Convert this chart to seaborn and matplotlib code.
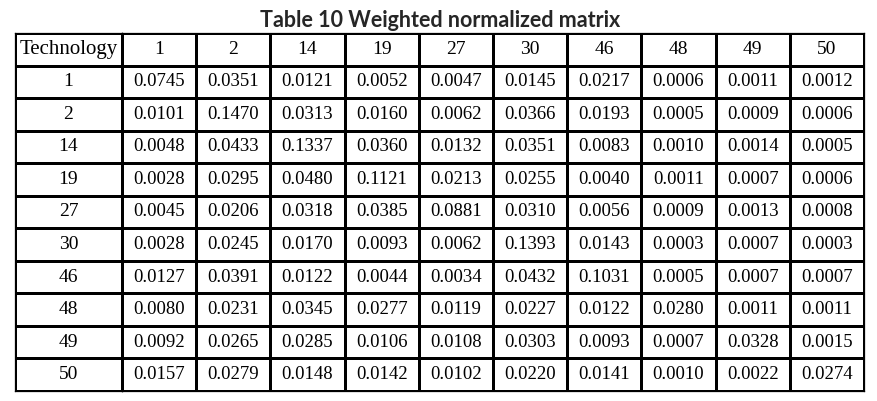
import numpy as np
import pandas as pd
import seaborn as sns
import matplotlib.pyplot as plt
from matplotlib.colors import ListedColormap

# Table 10: weighted normalized matrix
techs = ["1", "2", "14", "19", "27", "30", "46", "48", "49", "50"]
row_1 = [0.0745, 0.0351, 0.0121, 0.0052, 0.0047, 0.0145, 0.0217, 0.0006, 0.0011, 0.0012]
row_2 = [0.0101, 0.1470, 0.0313, 0.0160, 0.0062, 0.0366, 0.0193, 0.0005, 0.0009, 0.0006]
row_14 = [0.0048, 0.0433, 0.1337, 0.0360, 0.0132, 0.0351, 0.0083, 0.0010, 0.0014, 0.0005]
row_19 = [0.0028, 0.0295, 0.0480, 0.1121, 0.0213, 0.0255, 0.0040, 0.0011, 0.0007, 0.0006]
row_27 = [0.0045, 0.0206, 0.0318, 0.0385, 0.0881, 0.0310, 0.0056, 0.0009, 0.0013, 0.0008]
row_30 = [0.0028, 0.0245, 0.0170, 0.0093, 0.0062, 0.1393, 0.0143, 0.0003, 0.0007, 0.0003]
row_46 = [0.0127, 0.0391, 0.0122, 0.0044, 0.0034, 0.0432, 0.1031, 0.0005, 0.0007, 0.0007]
row_48 = [0.0080, 0.0231, 0.0345, 0.0277, 0.0119, 0.0227, 0.0122, 0.0280, 0.0011, 0.0011]
row_49 = [0.0092, 0.0265, 0.0285, 0.0106, 0.0108, 0.0303, 0.0093, 0.0007, 0.0328, 0.0015]
row_50 = [0.0157, 0.0279, 0.0148, 0.0142, 0.0102, 0.0220, 0.0141, 0.0010, 0.0022, 0.0274]

matrix = pd.DataFrame([row_1, row_2, row_14, row_19, row_27, row_30,
                       row_46, row_48, row_49, row_50],
                      index=techs, columns=techs)

sns.set_theme(style="white")
plt.rcParams["font.family"] = ["Liberation Serif", "DejaVu Serif"]

W, H = 877, 401
fig = plt.figure(figsize=(W / 100, H / 100), dpi=100)

top, bottom = 33, 391
left, split, right = 15, 122, 864
ax_lab = fig.add_axes([left / W, (H - bottom) / H, (split - left) / W, (bottom - top) / H])
ax_val = fig.add_axes([split / W, (H - bottom) / H, (right - split) / W, (bottom - top) / H])

white = ListedColormap(["white"])

# first column: header "Technology" + row ids
lab_annot = np.array([["Technology"]] + [[t] for t in techs])
sns.heatmap(np.zeros(lab_annot.shape), ax=ax_lab, cmap=white, cbar=False,
            annot=lab_annot, fmt="", linewidths=0.75, linecolor="black",
            xticklabels=False, yticklabels=False,
            annot_kws={"color": "black", "fontsize": 14})
ax_lab.texts[0].set_fontsize(15)

# value block: header row of technology ids + matrix values
val_annot = np.vstack([np.array(techs, dtype=object),
                       matrix.map(lambda v: f"{v:.4f}").to_numpy(dtype=object)])
sns.heatmap(np.zeros(val_annot.shape), ax=ax_val, cmap=white, cbar=False,
            annot=val_annot, fmt="", linewidths=0.75, linecolor="black",
            xticklabels=False, yticklabels=False,
            annot_kws={"color": "black", "fontsize": 13.5})
for t in ax_val.texts[:len(techs)]:
    t.set_fontsize(14)

for ax in (ax_lab, ax_val):
    for s in ax.spines.values():
        s.set_visible(True)
        s.set_color("black")
        s.set_linewidth(0.9)

fig.text(440 / W, 1 - 27 / H, "Table 10 Weighted normalized matrix",
         ha="center", va="baseline", fontsize=15.5, fontweight="bold",
         family=["Lato", "DejaVu Sans"])

plt.savefig("out.png", dpi=100)
